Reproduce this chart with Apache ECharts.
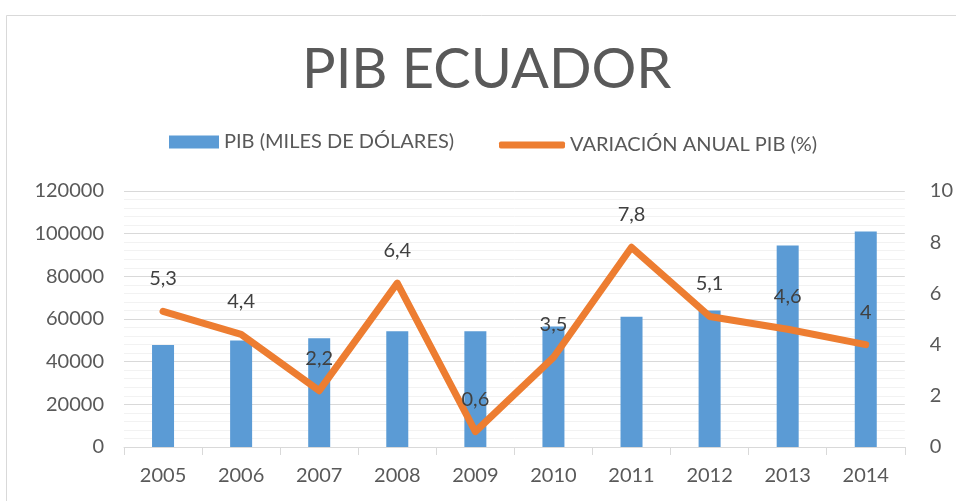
<!DOCTYPE html>
<html>
<head>
<meta charset="utf-8">
<script src="https://cdn.jsdelivr.net/npm/echarts@6/dist/echarts.min.js"></script>
<style>
  html, body { margin: 0; padding: 0; background: #fff; }
  #chart { width: 956px; height: 501px; }
</style>
</head>
<body>
<div id="chart"></div>
<script>
// datos
var years = ['2005', '2006', '2007', '2008', '2009', '2010', '2011', '2012', '2013', '2014'];
var pib = [47800, 49900, 51000, 54200, 54200, 56500, 61100, 64000, 94500, 101000];
var variacion = [5.3, 4.4, 2.2, 6.4, 0.6, 3.5, 7.8, 5.1, 4.6, 4];

var gris = '#595959';
var fuente = 'Lato';

var myChart = echarts.init(document.getElementById('chart'));

var option = {
  backgroundColor: '#fff',
  textStyle: { fontFamily: fuente },
  graphic: [{
    type: 'rect',
    shape: { x: 6.5, y: 15.5, width: 1000, height: 600 },
    style: { fill: 'none', stroke: '#d9d9d9', lineWidth: 1 },
    silent: true
  }],
  title: {
    text: 'PIB ECUADOR',
    left: 297,
    top: 37,
    textStyle: { fontSize: 56, fontWeight: 'normal', color: gris, fontFamily: fuente }
  },
  legend: [{
    data: [{ name: 'PIB (MILES DE DÓLARES)', icon: 'rect' }],
    left: 164,
    top: 127,
    itemWidth: 50,
    itemHeight: 13,
    itemGap: 7,
    textStyle: { fontSize: 20, color: gris, fontFamily: fuente }
  }, {
    data: [{ name: 'VARIACIÓN ANUAL PIB (%)', icon: 'roundRect' }],
    left: 494,
    top: 130,
    itemWidth: 66,
    itemHeight: 7,
    itemGap: 5,
    textStyle: { fontSize: 20, color: gris, fontFamily: fuente }
  }],
  grid: {
    left: 124,
    right: 51,
    top: 191,
    bottom: 54
  },
  xAxis: {
    type: 'category',
    data: years,
    boundaryGap: true,
    axisLine: { lineStyle: { color: '#d9d9d9' } },
    axisTick: { show: true, length: 8, alignWithLabel: false, lineStyle: { color: '#d9d9d9' } },
    axisLabel: { fontSize: 20, color: gris, margin: 19, fontFamily: fuente }
  },
  yAxis: [{
    type: 'value',
    min: 0,
    max: 120000,
    interval: 20000,
    axisLine: { show: false },
    axisTick: { show: false },
    axisLabel: {
      fontSize: 20, color: gris, margin: 20, fontFamily: fuente,
      formatter: function (v) { return String(v); }
    },
    splitLine: { lineStyle: { color: '#d9d9d9' } },
    minorTick: { show: false, splitNumber: 5 },
    minorSplitLine: { show: true, lineStyle: { color: '#f2f2f2' } }
  }, {
    type: 'value',
    min: 0,
    max: 10,
    interval: 2,
    axisLine: { show: false },
    axisTick: { show: false },
    axisLabel: { fontSize: 20, color: gris, margin: 25, fontFamily: fuente },
    splitLine: { show: false }
  }],
  series: [{
    name: 'PIB (MILES DE DÓLARES)',
    type: 'bar',
    data: pib,
    barWidth: 22,
    itemStyle: { color: '#5b9bd5' }
  }, {
    name: 'VARIACIÓN ANUAL PIB (%)',
    type: 'line',
    yAxisIndex: 1,
    data: variacion,
    showSymbol: true,
    symbol: 'circle',
    symbolSize: 1,
    lineStyle: { color: '#ed7d31', width: 7, join: 'round', cap: 'round' },
    itemStyle: { color: '#ed7d31' },
    label: {
      show: true,
      position: 'top',
      distance: 22,
      fontSize: 20,
      color: '#404040',
      fontFamily: fuente,
      formatter: function (p) {
        return String(p.value).replace('.', ',');
      }
    },
    z: 5
  }]
};

myChart.setOption(option);
</script>
</body>
</html>
